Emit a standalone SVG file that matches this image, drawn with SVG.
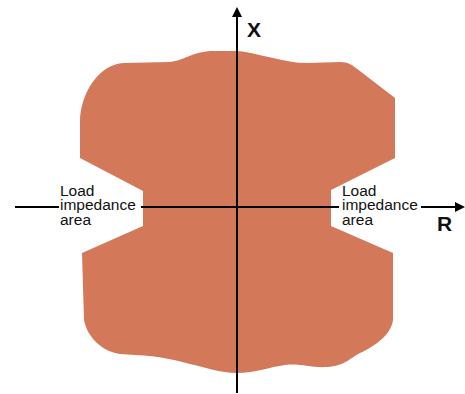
<svg xmlns="http://www.w3.org/2000/svg" width="465" height="394" viewBox="0 0 465 394">
<style>
.lbl{font-family:"Liberation Sans",Arial,sans-serif;font-size:15.5px;fill:#111}
.ax{font-family:"Liberation Sans",Arial,sans-serif;font-size:21px;font-weight:bold;fill:#111}
.axis{stroke:#000;stroke-width:2;fill:none}
</style>
<defs>
<marker id="arr" viewBox="0 0 10 10" refX="0" refY="5" markerWidth="10" markerHeight="10" markerUnits="userSpaceOnUse" orient="auto">
<path d="M0,0 L10,5 L0,10 Z" fill="#000"/>
</marker>
</defs>
<rect width="465" height="394" fill="#fff"/>
<g id="impedance-region">
<path fill="#D37858" d="M237 51 C250 52 270 58 293 62 C305 64 325 62 340 62 C348 62 352 65 356 68 L395 98 L395 158 L331 190 L331 226 L393 253 L393 320 C391 335 375 346 360 353 C350 358 345 366 327 367 C310 368 300 363 285 365 C270 367 255 373 237 373 C220 373 205 367 190 364 C175 360 160 356 135 355 L120 354 C105 352 88 340 84 320 L82 253 L143 226 L143 191 L80 158 L80 122 C80 95 98 64 124 63 L170 62 C185 60 190 53 210 51 Z"/>
</g>
<g id="connectors">
<path class="axis" d="M237 393 V17" marker-end="url(#arr)"/>
<path class="axis" d="M15 207 H59 M141 207 H339 M421 207 H455" marker-end="url(#arr)"/>
</g>
<g id="label-x"><text class="ax" x="247" y="37">X</text></g>
<g id="label-r"><text class="ax" x="437" y="231">R</text></g>
<g id="label-left">
<text class="lbl" x="60" y="195.5">Load</text>
<text class="lbl" x="60" y="210">impedance</text>
<text class="lbl" x="60" y="224.5">area</text>
</g>
<g id="label-right">
<text class="lbl" x="342" y="195.5">Load</text>
<text class="lbl" x="342" y="210">impedance</text>
<text class="lbl" x="342" y="224.5">area</text>
</g>
</svg>
